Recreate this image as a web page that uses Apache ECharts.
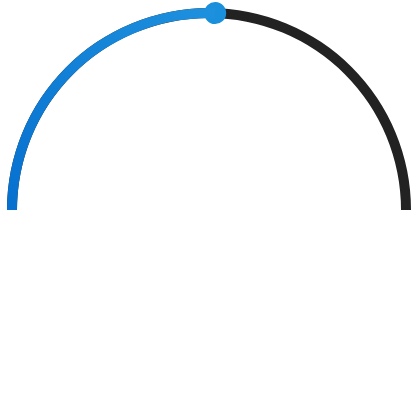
<!DOCTYPE html>
<html><head><meta charset="utf-8">
<script src="https://cdn.jsdelivr.net/npm/echarts@6/dist/echarts.min.js"></script>
<style>html,body{margin:0;padding:0;background:#fff}#c{width:420px;height:420px}</style>
</head><body><div id="c"></div>
<script>
const gaugeName = 'Progress';
const gaugeValues = [51];
const gaugeMin = 0;
const gaugeMax = 100;

const chart = echarts.init(document.getElementById('c'), null, {renderer: 'canvas'});
chart.setOption({
  animation: false,
  series: [{
    type: 'gauge',
    name: gaugeName,
    center: [209, 210],
    radius: 202,
    startAngle: 180,
    endAngle: 0,
    min: gaugeMin,
    max: gaugeMax,
    axisLine: {lineStyle: {width: 10, color: [[1, '#222222']]}},
    progress: {
      show: true,
      width: 10,
      itemStyle: {
        color: new echarts.graphic.LinearGradient(0, 1, 1, 0, [
          {offset: 0, color: '#0670cf'},
          {offset: 1, color: '#1e91de'}
        ])
      }
    },
    pointer: {
      show: true,
      icon: 'circle',
      width: 22,
      length: 22,
      offsetCenter: [0, -186],
      itemStyle: {color: '#1a8fdb'}
    },
    anchor: {show: false},
    axisTick: {show: false},
    splitLine: {show: false},
    axisLabel: {show: false},
    title: {show: false},
    detail: {show: false},
    data: gaugeValues.map(v => ({value: v, name: gaugeName}))
  }]
});
</script></body></html>
